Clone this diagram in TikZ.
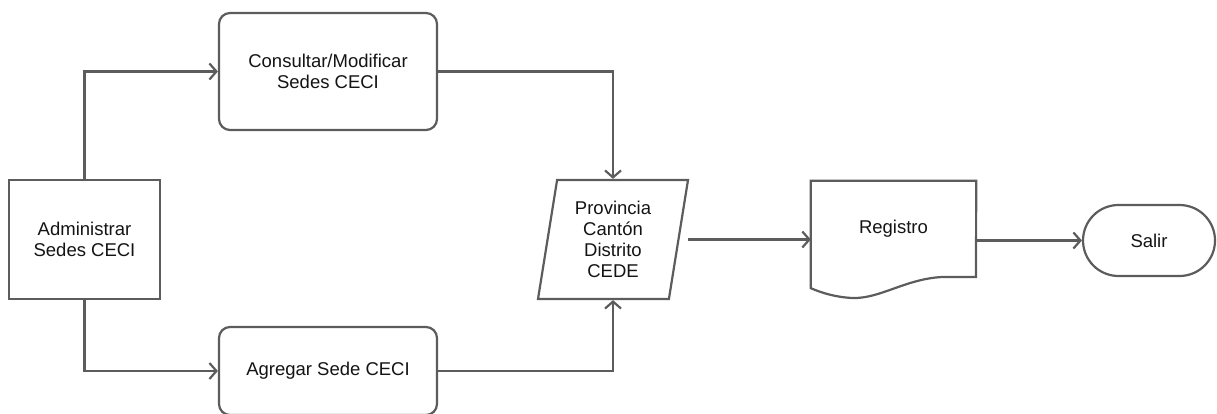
\documentclass[tikz,border=0pt]{standalone}
\usepackage{fontspec}
\setmainfont{Liberation Sans}
\usetikzlibrary{shapes.geometric,shapes.misc,arrows.meta}
\definecolor{lc}{RGB}{92,92,92}
\definecolor{tc}{RGB}{20,20,20}
\begin{document}
\begin{tikzpicture}[x=1pt,y=-1pt,
  every node/.style={font=\fontsize{18.5}{21}\selectfont, text=tc, align=center},
  shp/.style={draw=lc, line width=2.2pt, fill=white, inner sep=0pt},
  procbox/.style={shp, rectangle},
  roundbox/.style={shp, rectangle, rounded corners=11pt},
  arr/.style={draw=lc, line width=2.2pt, -{Straight Barb[length=7pt,width=16pt,line width=2.2pt]}},
  ln/.style={draw=lc, line width=2.2pt}]
\useasboundingbox (0,0) rectangle (1217,414);
% nodes
\node[procbox, minimum width=151pt, minimum height=119pt] (adm) at (84.5,239.5) {Administrar\\Sedes CECI};
\node[roundbox, minimum width=218pt, minimum height=117pt] (cons) at (328,71.5) {Consultar/Modificar\\Sedes CECI};
\node[roundbox, minimum width=218pt, minimum height=88pt] (agr) at (328,371) {Agregar Sede CECI};
\node[shp, trapezium, trapezium left angle=76, trapezium right angle=104, trapezium stretches body,
      minimum width=150pt, minimum height=119pt] (prov) at (613,239.5) {Provincia\\Cantón\\Distrito\\CEDE};
\coordinate (provout) at (688,239.5);
% document shape
\node[minimum width=165pt, minimum height=107pt, inner sep=0pt] (reg) at (893.5,234.5) {};
\draw[ln, line join=miter] (reg.north west) -- (reg.north east) -- (976,277) -- (942,277)
   .. controls (905,279) and (880,299) .. (852,298)
   .. controls (835,297) and (822,293) .. (reg.south west) -- cycle;
\node (regtxt) at (893.5,229) {Registro};
\node[shp, rounded rectangle, minimum width=132pt, minimum height=71pt] (sal) at (1149,240.5) {Salir};
% connectors
\draw[arr] (adm.north) |- (cons.west);
\draw[arr] (adm.south) |- (agr.west);
\draw[arr] (cons.east) -| (prov.north);
\draw[arr] (agr.east) -| (prov.south);
\draw[arr] (provout) -- (provout -| reg.west);
\draw[arr] (reg.east |- sal.west) -- (sal.west);
\end{tikzpicture}
\end{document}
